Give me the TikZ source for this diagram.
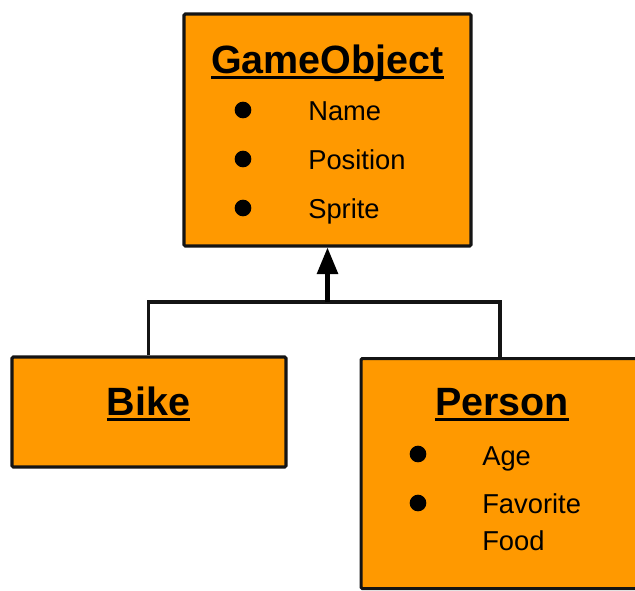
\documentclass[tikz,border=0pt]{standalone}
\usepackage{fontspec}
\setmainfont{Liberation Sans}
\usetikzlibrary{arrows.meta}

\definecolor{boxfill}{HTML}{FF9900}
\definecolor{ink}{HTML}{141414}

% text with a heavy underline
\newcommand\ultext[1]{\sbox0{#1}\rlap{\usebox0}\raisebox{-3.9pt}{\rule{\wd0}{2.3pt}}}

\tikzset{
  classbox/.style={draw=ink, fill=boxfill, line width=2.3pt, rounded corners=1pt,
                   rectangle, inner sep=0pt},
  title/.style={anchor=base, font=\fontsize{29.6}{31}\selectfont\bfseries, text=black, inner sep=0pt},
  item/.style={anchor=base west, font=\fontsize{20.5}{22}\selectfont, text=black, inner sep=0pt},
  bullet/.style={circle, fill=black, minimum size=12.5pt, inner sep=0pt},
  link/.style={draw=ink, line width=2.6pt},
  inherit/.style={draw=black, line width=3.2pt, -{Triangle[length=20pt,width=15.5pt]}},
}

\begin{document}
\begin{tikzpicture}[x=0.75pt, y=-0.75pt]
  \clip (0,0) rectangle (635,590);
  \useasboundingbox (0,0) rectangle (635,590);

  % class boxes
  \node[classbox, minimum width={287*0.75pt}, minimum height={232*0.75pt}] (go) at (327.5,130) {};
  \node[classbox, minimum width={274*0.75pt}, minimum height={110*0.75pt}] (bike) at (149,412) {};
  \node[classbox, minimum width={282*0.75pt}, minimum height={230*0.75pt}, anchor=north west] (person) at (359.5,357) {};

  % GameObject
  \node[title] (gotitle) at (327.5,73.5) {\ultext{GameObject}};
  \node[bullet] (gob1) at (243,110) {};
  \node[bullet] (gob2) at (243,159) {};
  \node[bullet] (gob3) at (243,208) {};
  \node[item] (goname) at (308,120) {Name};
  \node[item] (gopos) at (308,169) {Position};
  \node[item] (gosprite) at (308,218) {Sprite};

  % Bike
  \node[title] (biketitle) at (148.5,415.5) {\ultext{Bike}};

  % Person
  \node[title] (ptitle) at (502,415.5) {\ultext{Person}};
  \node[bullet] (pb1) at (418,454) {};
  \node[bullet] (pb2) at (418,503) {};
  \node[item] (page) at (482,465) {Age};
  \node[item] (pfav) at (482,513) {Favorite};
  \node[item] (pfood) at (482,550) {Food};

  % inheritance connectors
  \coordinate (joint) at (327.5,302);
  \coordinate (ptop) at (500,357);
  \draw[link] (bike.north -| 148.5,0) |- (ptop |- joint) -- (ptop);
  \draw[inherit] (joint) -- (go.south);
\end{tikzpicture}
\end{document}
